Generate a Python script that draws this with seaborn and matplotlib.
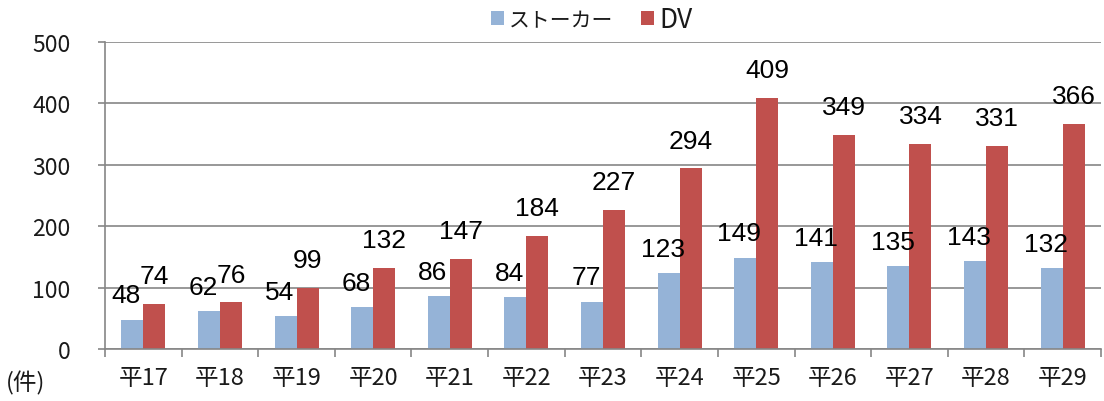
import matplotlib
matplotlib.use("Agg")
import matplotlib.pyplot as plt
import seaborn as sns
import pandas as pd
from matplotlib.patches import Patch

years = ["平17", "平18", "平19", "平20", "平21", "平22", "平23",
         "平24", "平25", "平26", "平27", "平28", "平29"]
stalker = [48, 62, 54, 68, 86, 84, 77, 123, 149, 141, 135, 143, 132]
dv = [74, 76, 99, 132, 147, 184, 227, 294, 409, 349, 334, 331, 366]
series_names = ["ストーカー", "DV"]
colors = ["#95B3D7", "#C0504D"]

df = pd.DataFrame({
    "year": years * 2,
    "count": stalker + dv,
    "series": [series_names[0]] * len(years) + [series_names[1]] * len(years),
})

sns.set_theme(style="white")
plt.rcParams["font.family"] = ["Noto Sans CJK JP", "DejaVu Sans"]

fig = plt.figure(figsize=(11.04, 4.02), dpi=100)
ax = fig.add_axes([105 / 1104, 1 - 350 / 402, (1101 - 105) / 1104, (350 - 43) / 402])

sns.barplot(data=df, x="year", y="count", hue="series", order=years,
            hue_order=series_names, palette=colors, width=0.575, gap=0,
            saturation=1, linewidth=0, legend=False, ax=ax)

ax.set_xlim(-0.5, len(years) - 0.5)
ax.set_ylim(0, 500)
ax.set_yticks(range(0, 501, 100))
ax.set_xlabel("")
ax.set_ylabel("")

grid_c = "#868686"
ax.grid(axis="y", color=grid_c, linewidth=1.2)
ax.set_axisbelow(True)
for s in ["top", "right"]:
    ax.spines[s].set_visible(False)
for s in ["left", "bottom"]:
    ax.spines[s].set_color(grid_c)
    ax.spines[s].set_linewidth(1.2)

ax.tick_params(axis="y", left=True, length=5, width=1.2, color=grid_c,
               pad=20, labelsize=16.5, labelcolor="#1a1a1a")
ax.tick_params(axis="x", which="major", bottom=False, length=0, pad=12,
               labelsize=17, labelcolor="#1a1a1a")
ax.set_xticks([i - 0.5 for i in range(len(years) + 1)], minor=True)
ax.tick_params(axis="x", which="minor", bottom=True, length=5.5, width=1.2,
               color=grid_c)

# value labels
lab_font = dict(family=["Liberation Sans", "DejaVu Sans"], fontsize=19,
                color="black")
blue_c, red_c = ax.containers[0], ax.containers[1]
for bar, v in zip(blue_c, stalker):
    ax.annotate(str(v), (bar.get_x() + bar.get_width() / 2, bar.get_height()),
                xytext=(-4.3, 17.5), textcoords="offset points",
                ha="center", va="center", **lab_font)
for bar, v in zip(red_c, dv):
    ax.annotate(str(v), (bar.get_x() + bar.get_width() / 2, bar.get_height()),
                xytext=(0, 20), textcoords="offset points",
                ha="center", va="center", **lab_font)

handles = [Patch(facecolor=c, edgecolor="none") for c in colors]
leg = fig.legend(handles, series_names, loc="center", bbox_to_anchor=(0.536, 0.95),
                 ncol=2, frameon=False, handlelength=0.55, handleheight=0.55,
                 handletextpad=0.25, columnspacing=1.15, fontsize=17)
leg.get_texts()[0].set_fontsize(15)
leg.get_texts()[1].set_fontsize(19)
for t in leg.get_texts():
    t.set_color("#1a1a1a")

fig.text(6 / 1104, 1 - 383 / 402, "(件)", fontsize=17, color="#1a1a1a",
         ha="left", va="center")

fig.savefig("out.png", dpi=100)
